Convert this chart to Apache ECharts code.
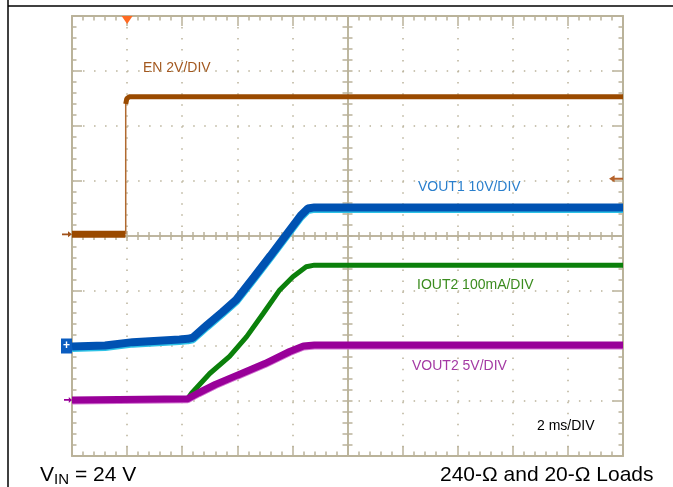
<!DOCTYPE html>
<html>
<head>
<meta charset="utf-8">
<script src="https://cdn.jsdelivr.net/npm/echarts@6/dist/echarts.min.js"></script>
<style>
html, body { margin: 0; padding: 0; background: #fff; }
#chart { width: 673px; height: 487px; }
</style>
</head>
<body>
<div id="chart"></div>
<script>
// time in ms (2 ms/DIV), level in screen divisions (0 = bottom edge, 8 = top edge)
const enLowTime = [0, 1.94];
const enLowLevel = [4.03, 4.03];
const enEdgeTime = [1.95, 1.95];
const enEdgeLevel = [4.03, 6.45];
const enHighTime = [1.95, 1.99, 2.08, 20];
const enHighLevel = [6.4, 6.5, 6.53, 6.53];

const vout1Time = [0, 1.2, 2.2, 3.9, 4.2, 4.38, 4.9, 5.44, 5.96, 6.6, 7.2, 7.8, 8.3, 8.56, 8.8, 20];
const vout1Level = [1.99, 2.01, 2.07, 2.12, 2.13, 2.15, 2.38, 2.61, 2.84, 3.25, 3.64, 4.04, 4.37, 4.5, 4.52, 4.52];

const iout2Time = [0, 4.2, 4.34, 5.0, 5.72, 6.34, 6.94, 7.54, 8.02, 8.5, 8.8, 20];
const iout2Level = [1.02, 1.04, 1.14, 1.5, 1.81, 2.17, 2.59, 3.02, 3.26, 3.44, 3.47, 3.47];

const vout2Time = [0, 4.2, 4.6, 5.2, 6.0, 7.0, 7.9, 8.4, 8.8, 20];
const vout2Level = [1.02, 1.04, 1.15, 1.3, 1.47, 1.68, 1.9, 2.0, 2.02, 2.02];

const triggerTime = 2;
const triggerLevel = 5.04;
const groundLevels = [4.03, 2.0, 1.02]; // EN, VOUT1, VOUT2 channel markers

const chartLabels = ['EN 2V/DIV', 'VOUT1 10V/DIV', 'IOUT2 100mA/DIV', 'VOUT2 5V/DIV', '2 ms/DIV'];

const gridColor = '#bab39a';
const font = '"Liberation Sans", Arial, sans-serif';

const zip = (xs, ys) => xs.map((x, i) => [x, ys[i]]);

const arrowRight = 'path://M0,2.2 L6,2.2 L6,0 L10,3 L6,6 L6,3.8 L0,3.8 Z';
const arrowLeft = 'path://M10,2.2 L4,2.2 L4,0 L0,3 L4,6 L4,3.8 L10,3.8 Z';

function axis(dim, extra) {
    const isX = dim === 'x';
    return Object.assign({
        type: 'value',
        min: 0,
        max: isX ? 20 : 8,
        interval: isX ? 2 : 1,
        axisLine: { show: true, onZero: false, lineStyle: { color: gridColor, width: 2 } },
        axisTick: { show: true, inside: true, length: 10, lineStyle: { color: gridColor, width: 1.5 } },
        minorTick: { show: true, splitNumber: 5, length: 4.5, lineStyle: { color: gridColor, width: 1.5 } },
        axisLabel: { show: false },
        splitLine: { show: false }
    }, extra);
}

function centerAxis(dim, inside) {
    const isX = dim === 'x';
    return axis(dim, {
        position: isX ? 'bottom' : 'left',
        offset: isX ? -220 : -275.5,
        axisLine: { show: true, onZero: false, lineStyle: { color: gridColor, width: 1.5 } },
        axisTick: { show: true, inside: inside, length: 5, lineStyle: { color: gridColor, width: 1.5 } },
        minorTick: { show: true, splitNumber: 5, length: isX ? 4 : 5, lineStyle: { color: gridColor, width: 1.5 } }
    });
}

const dotted = { show: true, lineStyle: { color: gridColor, width: 1.5, type: [1.5, 9.52] } };

const chart = echarts.init(document.getElementById('chart'), null, { renderer: 'canvas' });

const traceLine = (name, time, level, lineStyle, z, extra) => Object.assign({
    name: name,
    type: 'line',
    showSymbol: false,
    data: zip(time, level),
    lineStyle: lineStyle,
    z: z
}, extra);

const option = {
    animation: false,
    grid: { left: 72, top: 16, width: 551, height: 440, show: false },
    xAxis: [
        axis('x', { position: 'bottom', splitLine: dotted }),
        axis('x', { position: 'top' }),
        centerAxis('x', true),
        centerAxis('x', false)
    ],
    yAxis: [
        axis('y', { position: 'left', splitLine: dotted }),
        axis('y', { position: 'right' }),
        centerAxis('y', true),
        centerAxis('y', false)
    ],
    series: [
        traceLine('EN', enLowTime, enLowLevel, { color: '#9a4a00', width: 7 }, 3, {
            markPoint: {
                label: { show: false },
                data: [
                    { coord: [triggerTime, 8], symbol: 'triangle', symbolRotate: 180, symbolSize: [11, 8], symbolOffset: [0, 4], itemStyle: { color: '#ff6a22' } },
                    { coord: [0, groundLevels[0]], symbol: arrowRight, symbolSize: [10, 6], symbolOffset: [-5, 0], itemStyle: { color: '#a0521a' } },
                    { coord: [20, triggerLevel], symbol: arrowLeft, symbolSize: [14, 7], symbolOffset: [-7, 0], itemStyle: { color: '#b5622a' } }
                ]
            }
        }),
        traceLine('EN', enEdgeTime, enEdgeLevel, { color: '#b06a30', width: 1.5 }, 3),
        traceLine('EN', enHighTime, enHighLevel, { color: '#9a4a00', width: 5 }, 3),
        traceLine('VOUT1', vout1Time, vout1Level,
            { color: '#0052b2', width: 8, shadowColor: '#2ec2e6', shadowBlur: 0, shadowOffsetY: 1.5 }, 4, {
            markPoint: {
                data: [
                    {
                        coord: [0, groundLevels[1]], symbol: 'rect', symbolSize: [11, 15], symbolOffset: [-5.5, 0],
                        itemStyle: { color: '#0a5cc0' },
                        label: { show: true, formatter: '+', color: '#fff', fontSize: 12, fontWeight: 'bold', fontFamily: font }
                    }
                ]
            }
        }),
        traceLine('IOUT2', iout2Time, iout2Level, { color: '#0b800b', width: 5 }, 5),
        traceLine('VOUT2', vout2Time, vout2Level,
            { color: '#990099', width: 7, shadowColor: '#d070d0', shadowBlur: 0, shadowOffsetY: 1 }, 6, {
            markPoint: {
                label: { show: false },
                data: [
                    { coord: [0, groundLevels[2]], symbol: arrowRight, symbolSize: [8, 6], symbolOffset: [-4, 0], itemStyle: { color: '#990099' } }
                ]
            }
        })
    ],
    graphic: [
        { type: 'line', shape: { x1: 8, y1: 0, x2: 8, y2: 487 }, style: { stroke: '#000', lineWidth: 1.5 } },
        { type: 'line', shape: { x1: 8, y1: 6, x2: 673, y2: 6 }, style: { stroke: '#000', lineWidth: 1.5 } },
        { type: 'text', x: 143, y: 68, style: { text: chartLabels[0], fill: '#a3581f', font: `14px ${font}`, verticalAlign: 'middle' } },
        { type: 'text', x: 418, y: 187, style: { text: chartLabels[1], fill: '#2a7fcc', font: `14px ${font}`, verticalAlign: 'middle' } },
        { type: 'text', x: 417, y: 285, style: { text: chartLabels[2], fill: '#3b8c1f', font: `14px ${font}`, verticalAlign: 'middle' } },
        { type: 'text', x: 412, y: 366, style: { text: chartLabels[3], fill: '#a43aa4', font: `14px ${font}`, verticalAlign: 'middle' } },
        { type: 'text', x: 537, y: 426, style: { text: chartLabels[4], fill: '#000', font: `14px ${font}`, verticalAlign: 'middle' } },
        { type: 'text', x: 40, y: 475, style: { text: 'V', fill: '#000', font: `21px ${font}`, verticalAlign: 'middle' } },
        { type: 'text', x: 54, y: 480, style: { text: 'IN', fill: '#000', font: `15px ${font}`, verticalAlign: 'middle' } },
        { type: 'text', x: 75, y: 475, style: { text: '= 24 V', fill: '#000', font: `21px ${font}`, verticalAlign: 'middle' } },
        { type: 'text', x: 440, y: 475, style: { text: '240-Ω and 20-Ω Loads', fill: '#000', font: `21px ${font}`, verticalAlign: 'middle' } }
    ]
};

chart.setOption(option);
</script>
</body>
</html>
